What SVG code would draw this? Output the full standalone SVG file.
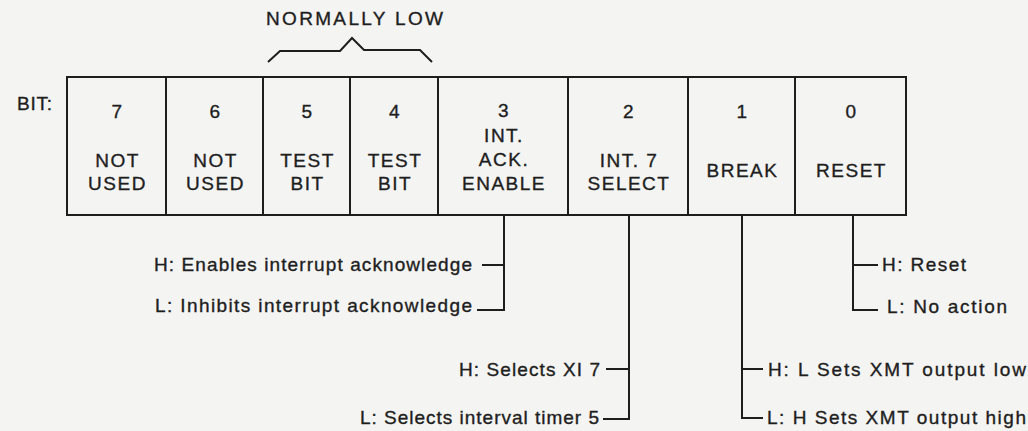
<svg xmlns="http://www.w3.org/2000/svg" width="1028" height="431" viewBox="0 0 1028 431">
  <style>
    .bg { fill: #f4f4f2; }
    .cell { fill: none; stroke: #1e1e1e; stroke-width: 2; }
    .ln { fill: none; stroke: #1e1e1e; stroke-width: 2; }
    text { font-family: "Liberation Sans", Arial, sans-serif; font-size: 19px; fill: #1e1e1e; stroke: #1e1e1e; stroke-width: 0.35; }
    .c { text-anchor: middle; letter-spacing: 1.5px; }
    .d { letter-spacing: 1px; }
  </style>
  <rect class="bg" x="0" y="0" width="1028" height="431"/>

  <g id="title">
    <text x="266" y="25" textLength="177" lengthAdjust="spacing">NORMALLY LOW</text>
    <polyline class="ln" points="268,62 280,51 340,51 352,38 364,50 420,50 432,62"/>
  </g>

  <g id="bit-label">
    <text x="17" y="110" textLength="35" lengthAdjust="spacing">BIT:</text>
  </g>

  <g id="register">
    <rect class="cell" x="67" y="77" width="839" height="138"/>
  </g>

  <g id="bit7">
    <line class="ln" x1="166" y1="77" x2="166" y2="215"/>
    <text class="c" x="117.5" y="118">7</text>
    <text class="c" x="117.5" y="167">NOT</text>
    <text class="c" x="117.5" y="190">USED</text>
  </g>
  <g id="bit6">
    <line class="ln" x1="263" y1="77" x2="263" y2="215"/>
    <text class="c" x="215.5" y="118">6</text>
    <text class="c" x="215.5" y="167">NOT</text>
    <text class="c" x="215.5" y="190">USED</text>
  </g>
  <g id="bit5">
    <line class="ln" x1="350" y1="77" x2="350" y2="215"/>
    <text class="c" x="307.5" y="118">5</text>
    <text class="c" x="307.5" y="167">TEST</text>
    <text class="c" x="307.5" y="190">BIT</text>
  </g>
  <g id="bit4">
    <line class="ln" x1="438" y1="77" x2="438" y2="215"/>
    <text class="c" x="395" y="118">4</text>
    <text class="c" x="395" y="167">TEST</text>
    <text class="c" x="395" y="190">BIT</text>
  </g>
  <g id="bit3">
    <line class="ln" x1="568" y1="77" x2="568" y2="215"/>
    <text class="c" x="504" y="117">3</text>
    <text class="c" x="504" y="142">INT.</text>
    <text class="c" x="504" y="166">ACK.</text>
    <text class="c" x="504" y="190">ENABLE</text>
  </g>
  <g id="bit2">
    <line class="ln" x1="688" y1="77" x2="688" y2="215"/>
    <text class="c" x="629" y="118">2</text>
    <text class="c" x="629" y="167">INT. 7</text>
    <text class="c" x="629" y="190">SELECT</text>
  </g>
  <g id="bit1">
    <line class="ln" x1="795" y1="77" x2="795" y2="215"/>
    <text class="c" x="742.5" y="118">1</text>
    <text class="c" x="742.5" y="177">BREAK</text>
  </g>
  <g id="bit0">
    <text class="c" x="851.5" y="118">0</text>
    <text class="c" x="851.5" y="177">RESET</text>
  </g>

  <g id="connectors">
    <path class="ln" d="M504 215 V310 H477 M482 265 H504"/>
    <path class="ln" d="M629 215 V419 H603 M606 369 H629"/>
    <path class="ln" d="M742 215 V418 H763 M742 369 H763"/>
    <path class="ln" d="M853 215 V310 H878 M853 265 H878"/>
  </g>

  <g id="bit3-desc">
    <text class="d" x="154" y="271" textLength="319" lengthAdjust="spacing">H: Enables interrupt acknowledge</text>
    <text class="d" x="155" y="312" textLength="318" lengthAdjust="spacing">L: Inhibits interrupt acknowledge</text>
  </g>
  <g id="bit2-desc">
    <text class="d" x="459" y="376" textLength="142" lengthAdjust="spacing">H: Selects XI 7</text>
    <text class="d" x="360" y="424" textLength="240" lengthAdjust="spacing">L: Selects interval timer 5</text>
  </g>
  <g id="bit1-desc">
    <text class="d" x="768" y="376" textLength="259" lengthAdjust="spacing">H: L Sets XMT output low</text>
    <text class="d" x="767" y="424" textLength="260" lengthAdjust="spacing">L: H Sets XMT output high</text>
  </g>
  <g id="bit0-desc">
    <text class="d" x="882" y="271" textLength="85" lengthAdjust="spacing">H: Reset</text>
    <text class="d" x="887" y="313" textLength="121" lengthAdjust="spacing">L: No action</text>
  </g>
</svg>
